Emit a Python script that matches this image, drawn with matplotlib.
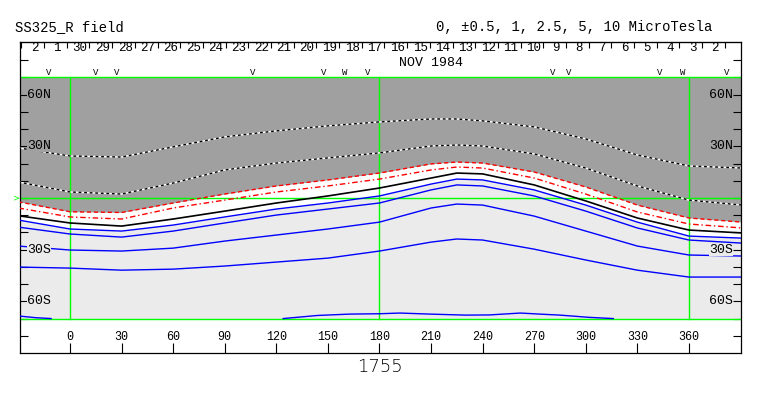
import matplotlib
matplotlib.use('Agg')
import matplotlib.pyplot as plt
import numpy as np

lon = [-30, 0, 30, 60, 90, 120, 150, 180, 210, 225, 240, 270, 300, 330, 360, 391]

# contour latitudes (deg) at those longitudes, top to bottom
dot_upper = [29.1, 24.4, 23.8, 29.7, 35.5, 39.0, 41.9, 44.2, 45.9, 45.9, 44.8, 41.3, 34.3, 25.0, 18.6, 17.4]
dot_lower = [9.3, 3.5, 2.3, 8.7, 16.3, 20.3, 23.3, 26.2, 30.2, 30.8, 30.2, 25.6, 17.4, 7.0, -1.2, -4.1]
red_dash = [-2.2, -8.0, -8.4, -2.9, 2.3, 7.0, 10.5, 14.5, 19.8, 20.9, 20.3, 15.1, 6.4, -4.1, -11.6, -14.0]
red_dashdot = [-5.8, -11.0, -12.2, -5.8, -1.2, 3.5, 7.0, 11.0, 16.3, 18.0, 17.4, 11.6, 2.3, -8.1, -15.1, -17.4]
neutral = [-10.3, -14.5, -16.3, -12.2, -7.6, -2.9, 1.2, 5.8, 11.6, 14.5, 14.0, 7.6, -1.7, -11.6, -18.6, -20.3]
blue1 = [-12.8, -18.0, -19.2, -15.7, -11.0, -6.4, -2.9, 1.2, 8.1, 11.0, 10.5, 4.7, -4.1, -14.0, -22.1, -23.3]
blue2 = [-16.9, -20.9, -22.7, -19.2, -14.5, -9.9, -6.4, -2.9, 4.7, 7.6, 7.0, 1.2, -7.6, -17.4, -24.4, -26.2]
blue3 = [-27.9, -30.2, -30.8, -29.1, -25.0, -21.5, -18.0, -14.0, -5.8, -3.5, -4.1, -10.5, -19.2, -27.9, -33.1, -33.7]
blue4 = [-40.1, -40.7, -41.9, -41.3, -39.5, -37.2, -34.9, -30.8, -25.6, -23.8, -24.4, -29.7, -36.0, -41.9, -45.9, -45.9]

# the weak contour that touches the -70 edge
blue5a_lon = [-30, -20, -11]
blue5a_lat = [-68.5, -69.5, -70.0]
blue5b_lon = [124, 134, 144, 163, 180, 192, 209, 230, 244, 252, 262, 273, 285, 302, 316]
blue5b_lat = [-70.0, -69.1, -68.2, -67.4, -67.2, -66.8, -67.4, -68.0, -67.9, -67.4, -66.8, -67.4, -68.0, -69.3, -70.0]

# date axis along the top (dates run backwards with longitude)
day_labels = ['2', '1', '30', '29', '28', '27', '26', '25', '24', '23', '22', '21', '20', '19', '18',
              '17', '16', '15', '14', '13', '12', '11', '10', '9', '8', '7', '6', '5', '4', '3', '2']
first_day_tick = -28.3       # lon of Dec 3 0h
deg_per_day = 13.2

# V / W markers above the map
mark_lon = [-12.2, 15.1, 27.3, 106.4, 147.7, 159.9, 173.3, 280.9, 290.2, 343.2, 356.5, 382.1]
mark_txt = ['V', 'V', 'V', 'V', 'V', 'W', 'V', 'V', 'V', 'V', 'W', 'V']

xticks = [0, 30, 60, 90, 120, 150, 180, 210, 240, 270, 300, 330, 360]
lat_labels = {60: '60N', 30: '30N', -30: '30S', -60: '60S'}

DARK = '#a0a0a0'
LIGHT = '#ebebeb'
GREEN = '#00ff00'
MONO = 'Liberation Mono'

fig = plt.figure(figsize=(7.63, 3.96), dpi=100)
ax = fig.add_axes([20 / 763, 1 - 353 / 396, 721 / 763, 311 / 396])
ax.set_xlim(-29.1, 390.3)
ax.set_ylim(-90.0, 90.6)

# background band
ax.axhspan(-70, 70, color=LIGHT, lw=0, zorder=0)
ax.fill_between(lon, red_dash, 70, color=DARK, lw=0, zorder=1)
ax.fill_between(lon, blue1, red_dash, color='white', lw=0, zorder=1)

# grid lines in green
for y in (70, 0, -70):
    ax.axhline(y, color=GREEN, lw=1, zorder=2)
for x in (0, 180, 360):
    ax.plot([x, x], [-70, 70], color=GREEN, lw=1, zorder=2)

# contours
for d in (dot_upper, dot_lower):
    ax.plot(lon, d, color='white', lw=1, zorder=3)
    ax.plot(lon, d, color='black', lw=1, ls=(0, (2, 2)), zorder=4)
ax.plot(lon, red_dash, color='red', lw=1, ls=(0, (3, 2)), zorder=4)
ax.plot(lon, red_dashdot, color='red', lw=1, ls=(0, (4, 2, 1, 2)), zorder=4)
ax.plot(lon, neutral, color='black', lw=1.2, zorder=4)
for b in (blue1, blue2, blue3, blue4):
    ax.plot(lon, b, color='blue', lw=1, zorder=4)
ax.plot(blue5a_lon, blue5a_lat, color='blue', lw=1, zorder=4)
ax.plot(blue5b_lon, blue5b_lat, color='blue', lw=1, zorder=4)

# bottom longitude ticks, labels sit inside the frame
ax.set_xticks(xticks)
ax.set_xticklabels([])
ax.tick_params(axis='x', direction='in', length=7, width=0.8, top=False)
for x in xticks:
    ax.text(x, -80.7, str(x), ha='center', va='center', fontsize=8.5, family=MONO)

# latitude ticks both sides, inward
ax.set_yticks(np.arange(-80, 81, 10))
ax.set_yticklabels([])
ax.tick_params(axis='y', direction='in', length=6, width=0.8, left=True, right=True)
for la, txt in lat_labels.items():
    bg = DARK if la > 0 else LIGHT
    ax.text(-25, la, txt, ha='left', va='center', fontsize=9.5, family=MONO, zorder=5,
            bbox=dict(facecolor=bg, edgecolor='none', pad=0))
    ax.text(385.5, la, txt, ha='right', va='center', fontsize=9.5, family=MONO, zorder=5,
            bbox=dict(facecolor=bg, edgecolor='none', pad=0))

# top date axis
top = ax.secondary_xaxis('top')
top.set_xticks([first_day_tick + k * deg_per_day for k in range(len(day_labels) + 1)])
top.set_xticklabels([])
top.tick_params(direction='in', length=4, width=0.8)
for i, d in enumerate(day_labels):
    ax.text(first_day_tick + (i + 0.5) * deg_per_day + 1.0, 87.0, d, ha='center', va='center',
            fontsize=9, family=MONO)
ax.text(210, 78.5, 'NOV 1984', ha='center', va='center', fontsize=9.5, family=MONO)
for x, t in zip(mark_lon, mark_txt):
    ax.text(x, 72.8, t, ha='center', va='center', fontsize=6.5, family=MONO)

ax.text(-29.6, 0, '>', ha='right', va='center', fontsize=6, color=GREEN, clip_on=False)

for s in ax.spines.values():
    s.set_linewidth(0.9)

fig.text(15 / 763, 1 - 27 / 396, 'SS325_R field', ha='left', va='center', fontsize=10, family=MONO)
fig.text(712 / 763, 1 - 27 / 396, '0, \u00b10.5, 1, 2.5, 5, 10 MicroTesla', ha='right', va='center',
         fontsize=10, family=MONO)
fig.text(380 / 763, 1 - 367 / 396, '1755', ha='center', va='center', fontsize=13,
         family='DejaVu Sans', fontweight='light')

fig.savefig('out.png', dpi=100)
